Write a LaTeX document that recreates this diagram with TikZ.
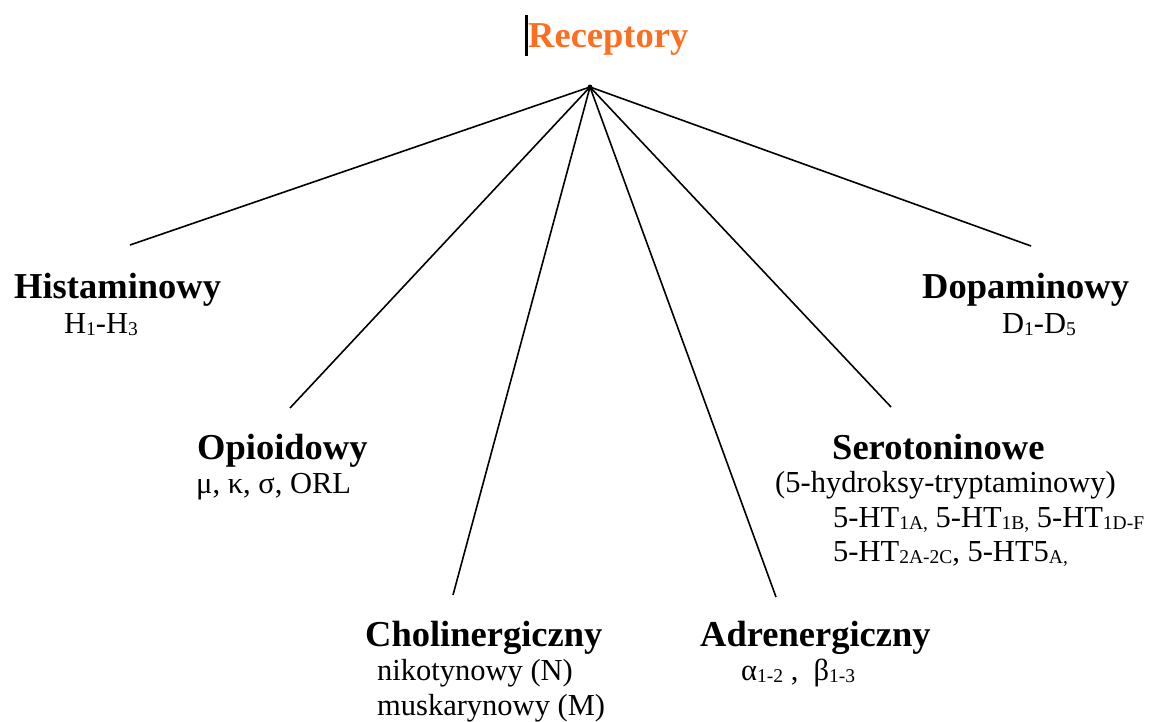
\documentclass[tikz,border=0pt]{standalone}
\usepackage{fontspec}
\setmainfont{Liberation Serif}
\definecolor{recorange}{RGB}{255,110,30}
\newcommand{\sbx}[1]{\raisebox{-0.2ex}{\fontsize{19.5}{20}\selectfont #1}}
\begin{document}
\begin{tikzpicture}[x=1pt,y=-1pt,
  head/.style={anchor=base west,inner sep=0pt,font=\fontsize{36.5}{40}\selectfont\bfseries},
  sub/.style={anchor=base west,inner sep=0pt,font=\fontsize{30.5}{34}\selectfont},
  link/.style={line width=1.6pt,black}]
\useasboundingbox (0,0) rectangle (1150,722);
% title
\node[head,text=recorange,font=\fontsize{36.5}{40}\selectfont\bfseries] (title) at (528,48) {Receptory};
\fill[black] (524.5,15) rectangle (528,56);
\coordinate (hub) at (590,87);
\fill[black] (hub) circle (2.4);
% endpoints
\coordinate (eh) at (130,245);
\coordinate (eo) at (290,408);
\coordinate (ec) at (453,595);
\coordinate (ea) at (776,597);
\coordinate (es) at (891,407);
\coordinate (ed) at (1031,246);
\foreach \e in {eh,eo,ec,ea,es,ed} \draw[link] (hub) -- (\e);
% Histaminowy
\node[head] (hist) at (14,298) {Histaminowy};
\node[sub] (histsub) at (64,333) {H\sbx{1}-H\sbx{3}};
% Dopaminowy
\node[head] (dopa) at (922,298) {Dopaminowy};
\node[sub] (dopasub) at (1002,333) {D\sbx{1}-D\sbx{5}};
% Opioidowy
\node[head] (opio) at (197,459) {Opioidowy};
\node[sub] (opiosub) at (196,493) {μ, κ, σ, ORL};
% Serotoninowe
\node[head] (sero) at (832,459) {Serotoninowe};
\node[sub] (serosub1) at (775,492) {(5-hydroksy-tryptaminowy)};
\node[sub] (serosub2) at (833,527) {5-HT\sbx{1A,} 5-HT\sbx{1B,} 5-HT\sbx{1D-F}};
\node[sub] (serosub3) at (833,561) {5-HT\sbx{2A-2C}, 5-HT5\sbx{A,}};
% Cholinergiczny
\node[head] (chol) at (365,646) {Cholinergiczny};
\node[sub] (cholsub1) at (377,680) {nikotynowy (N)};
\node[sub] (cholsub2) at (377,715) {muskarynowy (M)};
% Adrenergiczny
\node[head] (adre) at (700,646) {Adrenergiczny};
\node[sub] (adresub) at (741,680) {α\sbx{1-2} ,\ \ β\sbx{1-3}};
\end{tikzpicture}
\end{document}
